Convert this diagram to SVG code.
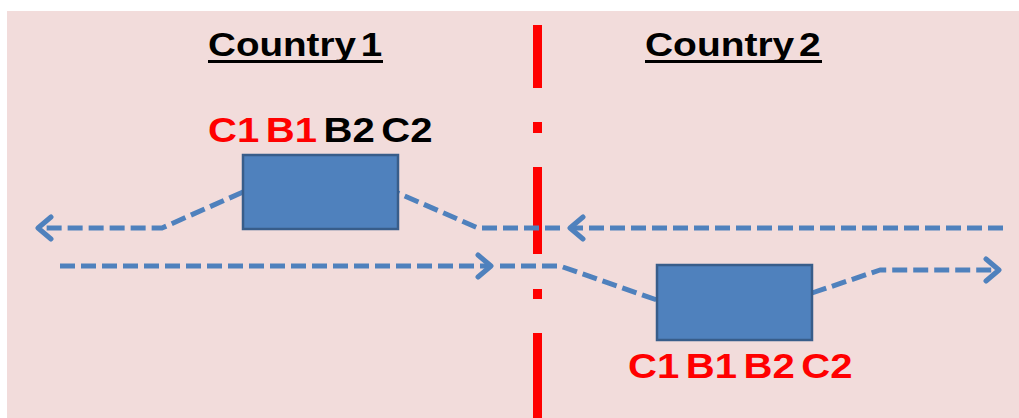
<svg xmlns="http://www.w3.org/2000/svg" width="1019" height="418" viewBox="0 0 1019 418">
<defs>
<style>
.flow{fill:none;stroke:#4F81BD;stroke-width:5;stroke-dasharray:15 6;stroke-linejoin:round}
.box{fill:#4F81BD;stroke:#385D8A;stroke-width:2.5}
.title{font-family:"Liberation Sans",Arial,sans-serif;font-weight:bold;font-size:33px;fill:#000;word-spacing:-5px}
.lbl{font-family:"Liberation Sans",Arial,sans-serif;font-weight:bold;font-size:35px;word-spacing:-4px}
.border{fill:#FF0000}
</style>
<marker id="arr" markerWidth="20" markerHeight="28" refX="16" refY="12" orient="auto" markerUnits="userSpaceOnUse" viewBox="0 0 20 24">
<path d="M3,1 L16,12 L3,23" fill="none" stroke="#4F81BD" stroke-width="5" stroke-linecap="round" stroke-linejoin="round"/>
</marker>
</defs>
<rect x="0" y="0" width="1019" height="418" fill="#FFFFFF"/>
<rect x="7" y="11" width="1012" height="407" fill="#F2DCDB"/>

<g id="border">
<rect class="border" x="533" y="25" width="9" height="63"/>
<rect class="border" x="533" y="122" width="9" height="11"/>
<rect class="border" x="533" y="167" width="9" height="87"/>
<rect class="border" x="533" y="289" width="9" height="10"/>
<rect class="border" x="533" y="333" width="9" height="85"/>
</g>

<g id="connectors">
<path class="flow" d="M1003,228 L570,228" marker-end="url(#arr)"/>
<path class="flow" d="M560,228 L478,228 L398,193"/>
<path class="flow" d="M243,192 L162,228 L38,228" marker-end="url(#arr)"/>
<path class="flow" d="M60,266 L491,266" marker-end="url(#arr)"/>
<path class="flow" d="M500,266 L560,266 L657,300"/>
<path class="flow" d="M812,293 L880,270 L999,270" marker-end="url(#arr)"/>
</g>

<g id="country1">
<text class="title" transform="translate(208,56) scale(1.17,1)" x="0" y="0">Country 1</text>
<rect x="208" y="60" width="175" height="3" fill="#000"/>
</g>
<g id="country2">
<text class="title" transform="translate(645,56) scale(1.18,1)" x="0" y="0">Country 2</text>
<rect x="645" y="60" width="177" height="3" fill="#000"/>
</g>

<g id="node1">
<rect class="box" x="243" y="155" width="155" height="74"/>
<text class="lbl" transform="translate(208,142) scale(1.145,1)" x="0" y="0"><tspan fill="#FF0000">C1 B1 </tspan><tspan fill="#000000">B2 C2</tspan></text>
</g>
<g id="node2">
<rect class="box" x="657" y="265" width="155" height="75"/>
<text class="lbl" transform="translate(628,378) scale(1.145,1)" x="0" y="0" fill="#FF0000">C1 B1 B2 C2</text>
</g>
</svg>
